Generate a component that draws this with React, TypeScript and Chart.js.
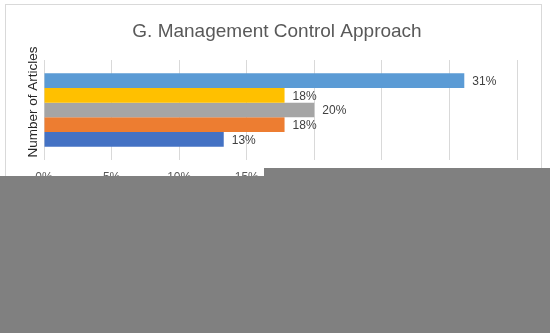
import React, { useEffect, useRef } from 'react';
import { Chart, registerables } from 'chart.js';

Chart.register(...registerables);

const chartTitle = 'G. Management Control Approach';
const axisTitle = 'Number of Articles';
const categories = [''];
// top-to-bottom order as drawn
const seriesNames = ['Series 5', 'Series 4', 'Series 3', 'Series 2', 'Series 1'];
const seriesValues = [0.311, 0.178, 0.2, 0.178, 0.133];
const seriesColors = ['#5B9BD5', '#FFC000', '#A5A5A5', '#ED7D31', '#4472C4'];
const xMin = 0;
const xMax = 0.35;
const xStep = 0.05;

const FONT = '"Liberation Sans", Arial, sans-serif';

const pct = (v: number) => Math.round(v * 100) + '%';

const decorPlugin = {
  id: 'decor',
  beforeDraw(chart: any) {
    const { ctx, width } = chart;
    ctx.save();
    ctx.strokeStyle = '#d9d9d9';
    ctx.lineWidth = 1;
    ctx.strokeRect(5.5, 4.5, 536, 340);
    ctx.fillStyle = '#595959';
    ctx.font = `19px ${FONT}`;
    ctx.textAlign = 'center';
    ctx.textBaseline = 'alphabetic';
    ctx.fillText(chartTitle, 277, 37);
    const ca = chart.chartArea;
    ctx.translate(33, (ca.top + ca.bottom) / 2 - 8);
    ctx.rotate(-Math.PI / 2);
    ctx.fillStyle = '#262626';
    ctx.font = `13.5px ${FONT}`;
    ctx.textBaseline = 'middle';
    ctx.fillText(axisTitle, 0, 0);
    ctx.restore();
  },
  afterDatasetsDraw(chart: any) {
    const { ctx } = chart;
    ctx.save();
    ctx.fillStyle = '#404040';
    ctx.font = `12px ${FONT}`;
    ctx.textAlign = 'left';
    ctx.textBaseline = 'middle';
    chart.data.datasets.forEach((ds: any, i: number) => {
      const meta = chart.getDatasetMeta(i);
      meta.data.forEach((el: any, j: number) => {
        ctx.fillText(pct(ds.data[j]), el.x + 8, el.y + 1);
      });
    });
    ctx.restore();
  },
};

export default function App() {
  const ref = useRef<HTMLCanvasElement>(null);
  useEffect(() => {
    if (!ref.current) return;
    const chart = new Chart(ref.current, {
      type: 'bar',
      data: {
        labels: categories,
        datasets: seriesNames.map((name, i) => ({
          label: name,
          data: [seriesValues[i]],
          backgroundColor: seriesColors[i],
          borderWidth: 0,
          barPercentage: 1,
          categoryPercentage: 0.733,
        })),
      },
      options: {
        indexAxis: 'y',
        animation: false,
        responsive: false,
        maintainAspectRatio: false,
        layout: { padding: { left: 44, right: 33, top: 60, bottom: 143 } },
        plugins: {
          legend: { display: false },
          title: { display: false },
          tooltip: { enabled: false },
        },
        scales: {
          x: {
            min: xMin,
            max: xMax,
            border: { display: false },
            grid: { color: '#d9d9d9', lineWidth: 1, drawTicks: false },
            ticks: {
              stepSize: xStep,
              padding: 10,
              color: '#595959',
              font: { family: FONT, size: 12 },
              callback: (v: any) => pct(Number(v)),
            },
            afterFit: (s: any) => {
              s.height = 30;
            },
          },
          y: { display: false },
        },
      },
      plugins: [decorPlugin],
    });
    return () => chart.destroy();
  }, []);
  return (
    <div style={{ position: 'absolute', left: 0, top: 0, width: 550, height: 333, background: '#fff', overflow: 'hidden' }}>
      <canvas ref={ref} width={550} height={333} style={{ display: 'block' }} />
      <div style={{ position: 'absolute', left: 0, top: 176, width: 550, height: 157, background: '#808080' }} />
      <div style={{ position: 'absolute', left: 264, top: 168, width: 286, height: 8, background: '#808080' }} />
    </div>
  );
}
